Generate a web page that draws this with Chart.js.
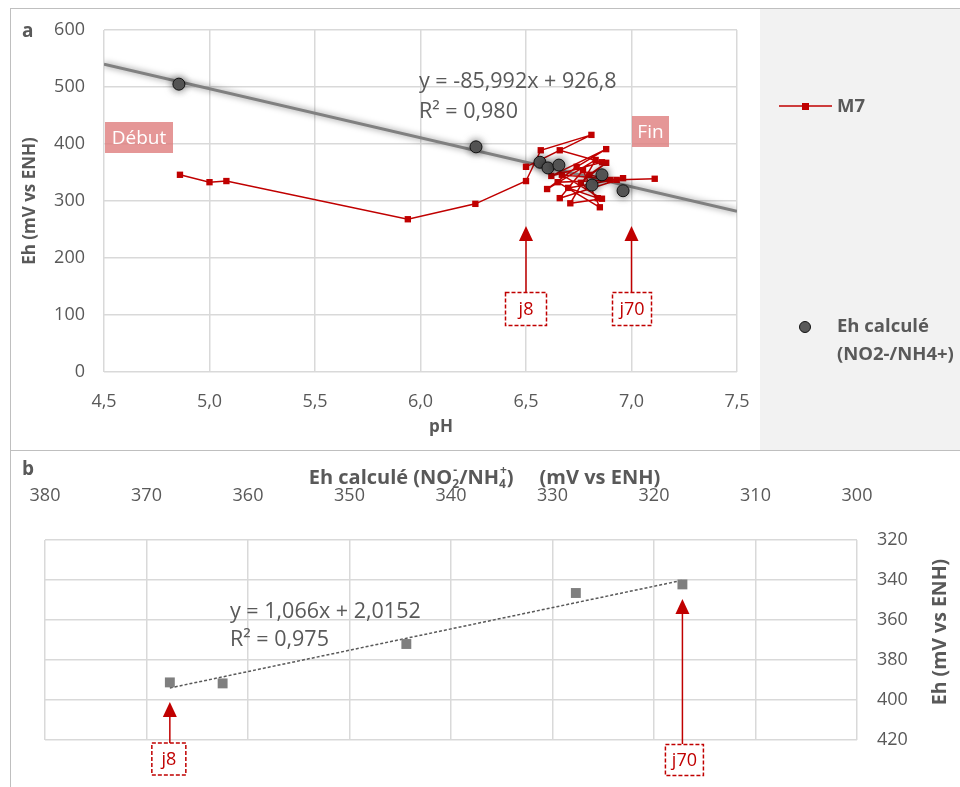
<!DOCTYPE html>
<html lang="fr">
<head>
<meta charset="utf-8">
<title>Eh - pH, M7</title>
<script src="https://cdn.jsdelivr.net/npm/chart.js@4.4.1/dist/chart.umd.min.js"></script>
<style>
  body { margin: 0; background: #fff; font-family: "Open Sans", sans-serif; }
  #wrap { position: relative; width: 960px; height: 787px; overflow: hidden; }
  .frame { position: absolute; box-sizing: border-box; border: 0 solid #bfbfbf; }
  canvas { position: absolute; }
</style>
</head>
<body>
<div id="wrap">
  <div class="frame" style="left:10px;top:8px;width:950px;height:443px;border-left-width:1px;border-top-width:1px;border-bottom-width:1px"></div>
  <div style="position:absolute;left:760px;top:9px;width:200px;height:441px;background:#f2f2f2"></div>
  <div class="frame" style="left:10px;top:450px;width:1px;height:337px;border-left-width:1px"></div>
  <canvas id="chartA" width="950" height="442" style="left:10px;top:8px"></canvas>
  <canvas id="chartB" width="950" height="337" style="left:10px;top:450px"></canvas>
</div>
<script>
// ---- panel a : measured Eh vs pH (M7) ----
const phM7 = [4.86, 5.00, 5.08, 5.94, 6.26, 6.50, 6.57, 6.81, 6.50, 6.66, 6.86, 6.62, 6.88, 6.74, 6.60, 6.83,
  6.71, 6.86, 6.67, 6.93, 6.65, 6.85, 6.77, 6.66, 6.96, 6.70, 6.84, 6.76, 6.88, 6.80, 6.90, 7.11];
const ehM7 = [346, 333, 335, 268, 295, 335, 389, 416, 360, 389, 368, 344, 391, 360, 321, 372,
  296, 304, 346, 337, 333, 289, 354, 305, 340, 323, 305, 332, 367, 346, 337, 339];

// Eh computed from NO2-/NH4+
const phCalc = [4.855, 6.263, 6.566, 6.604, 6.656, 6.813, 6.86, 6.96];
const ehCalc = [505, 395, 368, 358, 363, 328, 346, 318];

// linear trend shown on the chart
const slopeA = -85.992;
const interceptA = 926.8;

const phTicks = [4.5, 5.0, 5.5, 6.0, 6.5, 7.0, 7.5];
const ehTicksA = [0, 100, 200, 300, 400, 500, 600];

// ---- panel b : measured Eh vs computed Eh ----
const ehCalcB = [367.7, 362.5, 344.4, 327.7, 317.2];
const ehMeasB = [391.2, 391.7, 372.0, 346.5, 342.2];
const slopeB = 1.066;
const interceptB = 2.0152;
const ehCalcTicks = [300, 310, 320, 330, 340, 350, 360, 370, 380];
const ehMeasTicks = [320, 340, 360, 380, 400, 420];

const TXT = '#595959';
const RED = '#c00000';
const FONT = '"Open Sans", sans-serif';

const glowPlugin = {
  id: 'glow',
  beforeDatasetDraw(chart, args) {
    const ds = chart.data.datasets[args.index];
    if (ds.glow) {
      chart.ctx.save();
      chart.ctx.shadowColor = ds.glow;
      chart.ctx.shadowBlur = ds.glowBlur || 6;
    }
  },
  afterDatasetDraw(chart, args) {
    if (chart.data.datasets[args.index].glow) chart.ctx.restore();
  }
};

function arrowUp(ctx, x, yTip, yBase) {
  ctx.strokeStyle = RED;
  ctx.fillStyle = RED;
  ctx.lineWidth = 1.5;
  ctx.setLineDash([]);
  ctx.beginPath();
  ctx.moveTo(x, yBase);
  ctx.lineTo(x, yTip + 12);
  ctx.stroke();
  ctx.beginPath();
  ctx.moveTo(x, yTip);
  ctx.lineTo(x - 7, yTip + 15);
  ctx.lineTo(x + 7, yTip + 15);
  ctx.closePath();
  ctx.fill();
}

function tagBox(ctx, cx, cy, w, h, text) {
  ctx.fillStyle = '#fff';
  ctx.fillRect(cx - w / 2, cy - h / 2, w, h);
  ctx.strokeStyle = RED;
  ctx.lineWidth = 1.5;
  ctx.setLineDash([4, 2]);
  ctx.strokeRect(cx - w / 2, cy - h / 2, w, h);
  ctx.setLineDash([]);
  ctx.fillStyle = RED;
  ctx.font = '18px ' + FONT;
  ctx.textAlign = 'center';
  ctx.textBaseline = 'middle';
  ctx.fillText(text, cx, cy + 1);
}

function pinkLabel(ctx, x, y, w, h, text) {
  ctx.fillStyle = 'rgba(222, 125, 125, 0.8)';
  ctx.fillRect(x, y, w, h);
  ctx.fillStyle = '#fff';
  ctx.font = '19px ' + FONT;
  ctx.textAlign = 'center';
  ctx.textBaseline = 'middle';
  ctx.fillText(text, x + w / 2, y + h / 2 + 1);
}

const annotA = {
  id: 'annotA',
  afterDraw(chart) {
    const ctx = chart.ctx;
    const xs = chart.scales.x, ys = chart.scales.y;
    const area = chart.chartArea;
    ctx.save();
    ctx.fillStyle = TXT;
    ctx.textBaseline = 'middle';
    ctx.textAlign = 'left';
    ctx.font = 'bold 19px ' + FONT;
    ctx.fillText('a', 12, 24);

    ctx.font = 'bold 17px ' + FONT;
    ctx.textAlign = 'center';
    ctx.fillText('pH', 431, 419);
    ctx.save();
    ctx.translate(20, (area.top + area.bottom) / 2);
    ctx.rotate(-Math.PI / 2);
    ctx.fillText('Eh (mV vs ENH)', 0, 0);
    ctx.restore();

    ctx.font = '21.5px ' + FONT;
    ctx.textAlign = 'left';
    ctx.fillText('y = -85,992x + 926,8', 409, 74);
    ctx.fillText('R\u00b2 = 0,980', 409, 104);

    pinkLabel(ctx, 95, 114, 68, 31, 'Début');
    pinkLabel(ctx, 622, 108, 37, 31, 'Fin');

    const xj8 = xs.getPixelForValue(6.5), xj70 = xs.getPixelForValue(7.0);
    const tip = ys.getPixelForValue(256);
    const boxY = ys.getPixelForValue(110.5);
    arrowUp(ctx, xj8, tip, boxY - 16);
    arrowUp(ctx, xj70, tip, boxY - 16);
    tagBox(ctx, xj8, boxY, 41, 33, 'j8');
    tagBox(ctx, xj70 + 0.5, boxY, 39, 33, 'j70');

    // legend
    ctx.strokeStyle = RED;
    ctx.lineWidth = 1.5;
    ctx.beginPath();
    ctx.moveTo(769, 98);
    ctx.lineTo(822, 98);
    ctx.stroke();
    ctx.fillStyle = RED;
    ctx.fillRect(792, 95, 7, 7);
    ctx.fillStyle = TXT;
    ctx.font = 'bold 18.5px ' + FONT;
    ctx.textAlign = 'left';
    ctx.fillText('M7', 827, 99);

    ctx.beginPath();
    ctx.arc(795, 319, 5.5, 0, Math.PI * 2);
    ctx.fillStyle = '#595959';
    ctx.fill();
    ctx.strokeStyle = '#111';
    ctx.lineWidth = 1;
    ctx.stroke();
    ctx.fillStyle = TXT;
    ctx.fillText('Eh calculé', 827, 319);
    ctx.fillText('(NO2-/NH4+)', 827, 347);
    ctx.restore();
  }
};

function drawRich(ctx, parts, cx, y, size) {
  // parts: [text, sub, sup]; sub and sup are stacked after the main text
  const big = 'bold ' + size + 'px ' + FONT;
  const small = 'bold ' + Math.round(size * 0.62) + 'px ' + FONT;
  const w = (txt, f) => { ctx.font = f; return ctx.measureText(txt).width; };
  const adv = parts.map(p => w(p[0], big) + Math.max(w(p[1] || '', small), w(p[2] || '', small) + 1));
  let x = cx - adv.reduce((a, b) => a + b, 0) / 2;
  ctx.textAlign = 'left';
  ctx.textBaseline = 'middle';
  parts.forEach((p, i) => {
    ctx.font = big;
    ctx.fillText(p[0], x, y);
    const x2 = x + w(p[0], big);
    ctx.font = small;
    if (p[1]) ctx.fillText(p[1], x2, y + 7);
    if (p[2]) ctx.fillText(p[2], x2 + 1, y - 7);
    x += adv[i];
  });
}

const annotB = {
  id: 'annotB',
  afterDraw(chart) {
    const ctx = chart.ctx;
    const xs = chart.scales.x, ys = chart.scales.y;
    ctx.save();
    ctx.fillStyle = TXT;
    ctx.textBaseline = 'middle';
    ctx.textAlign = 'left';
    ctx.font = 'bold 19px ' + FONT;
    ctx.fillText('b', 12, 20);

    drawRich(ctx, [['Eh calculé (NO', '2', '-'], ['/NH', '4', '+'], [')     (mV vs ENH)']], 475, 28, 20);

    ctx.font = 'bold 19.5px ' + FONT;
    ctx.textAlign = 'center';
    ctx.save();
    ctx.translate(930, 182);
    ctx.rotate(-Math.PI / 2);
    ctx.fillText('Eh (mV vs ENH)', 0, 0);
    ctx.restore();

    ctx.font = '21.5px ' + FONT;
    ctx.textAlign = 'left';
    ctx.fillText('y = 1,066x + 2,0152', 220, 162);
    ctx.fillText('R\u00b2 = 0,975', 220, 190);

    const x8 = xs.getPixelForValue(ehCalcB[0]);
    const x70 = xs.getPixelForValue(ehCalcB[ehCalcB.length - 1]);
    arrowUp(ctx, x8, ys.getPixelForValue(401), 293);
    arrowUp(ctx, x70, ys.getPixelForValue(349.5), 294);
    tagBox(ctx, x8 - 1, 309, 34, 32, 'j8');
    tagBox(ctx, x70 + 2, 310, 38, 31, 'j70');
    ctx.restore();
  }
};

const tickFont = { family: FONT, size: 18 };
const gridStyle = { color: '#d9d9d9', lineWidth: 1.5, drawTicks: false };

new Chart(document.getElementById('chartA'), {
  type: 'scatter',
  data: {
    datasets: [
      {
        label: 'Eh calculé (NO2-/NH4+)',
        data: phCalc.map((x, i) => ({ x, y: ehCalc[i] })),
        pointRadius: 6,
        pointBackgroundColor: '#595959',
        pointBorderColor: '#111',
        pointBorderWidth: 1,
        glow: 'rgba(0,0,0,0.6)',
        glowBlur: 9
      },
      {
        label: 'M7',
        data: phM7.map((x, i) => ({ x, y: ehM7[i] })),
        showLine: true,
        borderColor: RED,
        borderWidth: 1.5,
        pointStyle: 'rect',
        pointRadius: 4.5,
        pointBackgroundColor: RED,
        pointBorderWidth: 0
      },
      {
        label: 'trend',
        data: [4.5, 7.5].map(x => ({ x, y: slopeA * x + interceptA })),
        showLine: true,
        borderColor: '#808080',
        borderWidth: 3,
        pointRadius: 0,
        glow: 'rgba(0,0,0,0.5)',
        glowBlur: 6
      }
    ]
  },
  options: {
    responsive: false,
    animation: false,
    devicePixelRatio: 1,
    layout: { padding: { top: 22, right: 223, left: 0, bottom: 0 } },
    plugins: { legend: { display: false }, tooltip: { enabled: false } },
    scales: {
      x: {
        type: 'linear', min: 4.5, max: 7.5,
        afterFit: s => { s.height = 78; },
        afterBuildTicks: s => { s.ticks = phTicks.map(v => ({ value: v })); },
        grid: gridStyle,
        border: { display: false },
        ticks: { padding: 19, color: TXT, font: tickFont, callback: v => v.toFixed(1).replace('.', ',') }
      },
      y: {
        type: 'linear', min: 0, max: 600,
        afterFit: s => { s.width = 94; },
        afterBuildTicks: s => { s.ticks = ehTicksA.map(v => ({ value: v })); },
        grid: { color: '#d9d9d9', lineWidth: 1.5, drawTicks: true, tickLength: 16, tickColor: 'rgba(0,0,0,0)' },
        border: { display: false },
        ticks: { padding: 3, color: TXT, font: tickFont }
      }
    }
  },
  plugins: [glowPlugin, annotA]
});

new Chart(document.getElementById('chartB'), {
  type: 'scatter',
  data: {
    datasets: [
      {
        label: 'Eh',
        data: ehCalcB.map((x, i) => ({ x, y: ehMeasB[i] })),
        pointStyle: 'rect',
        pointRadius: 7,
        pointBackgroundColor: '#7f7f7f',
        pointBorderWidth: 0
      },
      {
        label: 'trend',
        data: [ehCalcB[0], ehCalcB[ehCalcB.length - 1]].map(x => ({ x, y: slopeB * x + interceptB })),
        showLine: true,
        borderColor: '#595959',
        borderWidth: 1.5,
        borderDash: [3, 2],
        pointRadius: 0
      }
    ]
  },
  options: {
    responsive: false,
    animation: false,
    devicePixelRatio: 1,
    layout: { padding: { top: 0, right: 0, left: 35, bottom: 47 } },
    plugins: { legend: { display: false }, tooltip: { enabled: false } },
    scales: {
      x: {
        type: 'linear', position: 'top', reverse: true, min: 300, max: 380,
        afterFit: s => { s.height = 90; },
        afterBuildTicks: s => { s.ticks = ehCalcTicks.map(v => ({ value: v })); },
        grid: gridStyle,
        border: { display: false },
        ticks: { padding: 33, color: TXT, font: tickFont }
      },
      y: {
        type: 'linear', position: 'right', reverse: true, min: 320, max: 420,
        afterFit: s => { s.width = 103; },
        afterBuildTicks: s => { s.ticks = ehMeasTicks.map(v => ({ value: v })); },
        grid: gridStyle,
        border: { display: false },
        ticks: { padding: 20, color: TXT, font: tickFont }
      }
    }
  },
  plugins: [annotB]
});
</script>
</body>
</html>
